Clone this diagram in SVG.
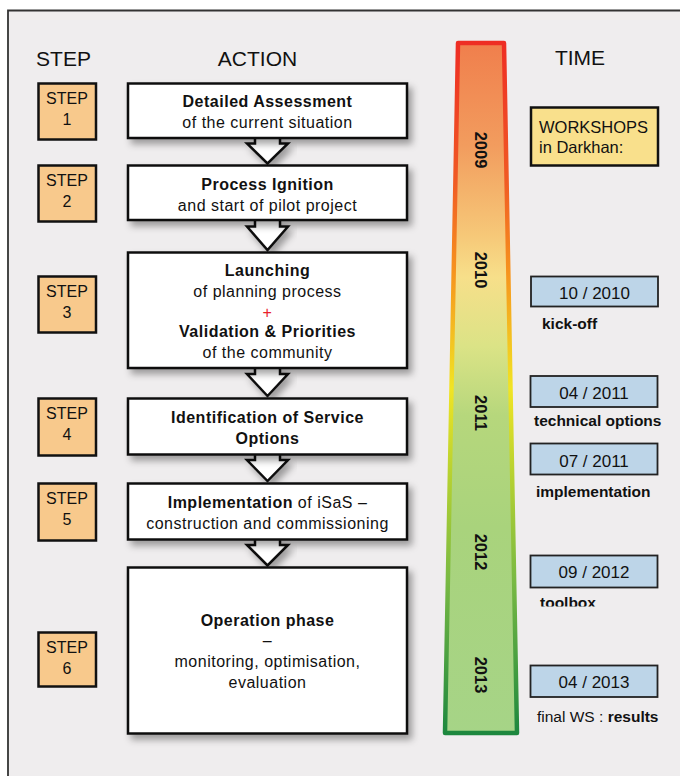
<svg xmlns="http://www.w3.org/2000/svg" width="680" height="776" viewBox="0 0 680 776">
  <defs>
    <style>
      text { font-family: "Liberation Sans", Arial, Helvetica, sans-serif; fill: #111; }
      .hdr { font-size: 21px; text-anchor: middle; }
      .step rect { fill: #f8c98c; stroke: #111; stroke-width: 2.5; }
      .step text { font-size: 16px; text-anchor: middle; }
      .act rect { fill: #fff; stroke: #111; stroke-width: 2.5; }
      .act text { font-size: 16px; letter-spacing: 0.5px; text-anchor: middle; }
      .b { font-weight: bold; }
      .arrow { fill: #fff; stroke: #111; stroke-width: 2.5; stroke-linejoin: miter; }
      .date rect { fill: #bdd5e8; stroke: #222; stroke-width: 1.8; }
      .date text.d { font-size: 17px; text-anchor: middle; }
      .date text.l { font-size: 15.5px; }
      .year { font-size: 16.5px; font-weight: bold; text-anchor: middle; }
    </style>
    <filter id="shadow" x="-10%" y="-10%" width="130%" height="140%">
      <feDropShadow dx="4" dy="5" stdDeviation="3.5" flood-color="#000" flood-opacity="0.35"/>
    </filter>
    <linearGradient id="barFill" gradientUnits="userSpaceOnUse" x1="0" y1="41" x2="0" y2="735">
      <stop offset="0" stop-color="#f07e4c"/>
      <stop offset="0.15" stop-color="#f29c5e"/>
      <stop offset="0.28" stop-color="#f6c878"/>
      <stop offset="0.34" stop-color="#f7df8a"/>
      <stop offset="0.44" stop-color="#dbe386"/>
      <stop offset="0.54" stop-color="#b6d77c"/>
      <stop offset="0.7" stop-color="#a9d37c"/>
      <stop offset="1" stop-color="#a6d487"/>
    </linearGradient>
    <linearGradient id="barStroke" gradientUnits="userSpaceOnUse" x1="0" y1="41" x2="0" y2="735">
      <stop offset="0" stop-color="#ee2d24"/>
      <stop offset="0.2" stop-color="#f05a24"/>
      <stop offset="0.33" stop-color="#f6921e"/>
      <stop offset="0.5" stop-color="#f1e424"/>
      <stop offset="0.62" stop-color="#b8d231"/>
      <stop offset="0.78" stop-color="#78b943"/>
      <stop offset="1" stop-color="#1c873e"/>
    </linearGradient>
    <clipPath id="cutLabel">
      <rect x="530" y="590" width="150" height="16.5"/>
    </clipPath>
  </defs>

  <!-- page and frame -->
  <rect x="0" y="0" width="680" height="776" fill="#fff"/>
  <rect x="8" y="11" width="680" height="780" fill="#efedee"/>
  <path d="M8,776 V10.5 H680" fill="none" stroke="#333" stroke-width="1.8"/>

  <!-- column headers -->
  <text class="hdr" x="63.5" y="66">STEP</text>
  <text class="hdr" x="257.5" y="66">ACTION</text>
  <text class="hdr" x="580" y="65">TIME</text>

  <!-- step markers -->
  <g id="step1" class="step">
    <rect x="38.5" y="83.5" width="57.5" height="56"/>
    <text x="67" y="104">STEP</text><text x="67" y="125">1</text>
  </g>
  <g id="step2" class="step">
    <rect x="38.5" y="165.5" width="57.5" height="56"/>
    <text x="67" y="186">STEP</text><text x="67" y="207">2</text>
  </g>
  <g id="step3" class="step">
    <rect x="38.5" y="276.5" width="57.5" height="56"/>
    <text x="67" y="297">STEP</text><text x="67" y="318">3</text>
  </g>
  <g id="step4" class="step">
    <rect x="38.5" y="398.5" width="57.5" height="57"/>
    <text x="67" y="419">STEP</text><text x="67" y="440">4</text>
  </g>
  <g id="step5" class="step">
    <rect x="38.5" y="483.5" width="57.5" height="57"/>
    <text x="67" y="504">STEP</text><text x="67" y="525">5</text>
  </g>
  <g id="step6" class="step">
    <rect x="38.5" y="632.5" width="57.5" height="54"/>
    <text x="67" y="653">STEP</text><text x="67" y="674">6</text>
  </g>

  <!-- flow arrows between action boxes -->
  <g id="connectors" filter="url(#shadow)">
    <path class="arrow" d="M255,138 V143.5 H247 L267.5,163.5 L288,143.5 H280 V138"/>
    <path class="arrow" d="M255,220 V226.5 H247 L267.5,250 L288,226.5 H280 V220"/>
    <path class="arrow" d="M255,368 V374 H247 L267.5,396 L288,374 H280 V368"/>
    <path class="arrow" d="M255,454.5 V460 H247 L267.5,481 L288,460 H280 V454.5"/>
    <path class="arrow" d="M255,539.5 V545 H247 L267.5,565.5 L288,545 H280 V539.5"/>
  </g>

  <!-- action boxes -->
  <g id="action1" class="act">
    <rect x="128" y="83.5" width="279" height="54.5" filter="url(#shadow)"/>
    <text x="267.5" y="107" class="b">Detailed Assessment</text>
    <text x="267.5" y="128">of the current situation</text>
  </g>
  <g id="action2" class="act">
    <rect x="128" y="165.5" width="279" height="54.5" filter="url(#shadow)"/>
    <text x="267.5" y="190" class="b">Process Ignition</text>
    <text x="267.5" y="211">and start of pilot project</text>
  </g>
  <g id="action3" class="act">
    <rect x="128" y="252.5" width="279" height="115.5" filter="url(#shadow)"/>
    <text x="267.5" y="276" class="b">Launching</text>
    <text x="267.5" y="297">of planning process</text>
    <text x="267.5" y="318" style="fill:#e8202a">+</text>
    <text x="267.5" y="337" class="b">Validation &amp; Priorities</text>
    <text x="267.5" y="358">of the community</text>
  </g>
  <g id="action4" class="act">
    <rect x="128" y="398.5" width="279" height="56" filter="url(#shadow)"/>
    <text x="267.5" y="423" class="b">Identification of Service</text>
    <text x="267.5" y="444" class="b">Options</text>
  </g>
  <g id="action5" class="act">
    <rect x="128" y="483.5" width="279" height="56" filter="url(#shadow)"/>
    <text x="267.5" y="508"><tspan class="b">Implementation</tspan> of iSaS –</text>
    <text x="267.5" y="529">construction and commissioning</text>
  </g>
  <g id="action6" class="act">
    <rect x="128" y="567.5" width="279" height="166" filter="url(#shadow)"/>
    <text x="267.5" y="626" class="b">Operation phase</text>
    <text x="267.5" y="646">–</text>
    <text x="267.5" y="667">monitoring, optimisation,</text>
    <text x="267.5" y="688">evaluation</text>
  </g>

  <!-- time bar -->
  <g id="timebar">
    <path d="M458,43 H504 L517,733 H445 Z" fill="url(#barFill)" stroke="url(#barStroke)" stroke-width="4.5" stroke-linejoin="round"/>
    <text class="year" transform="translate(474.5,150) rotate(90)">2009</text>
    <text class="year" transform="translate(474.5,270) rotate(90)">2010</text>
    <text class="year" transform="translate(474.5,413) rotate(90)">2011</text>
    <text class="year" transform="translate(474.5,552) rotate(90)">2012</text>
    <text class="year" transform="translate(474.5,675) rotate(90)">2013</text>
  </g>

  <!-- workshops -->
  <g id="workshops">
    <rect x="531" y="107.5" width="127" height="58" fill="#f9e08c" stroke="#111" stroke-width="2.5"/>
    <text x="539" y="133" style="font-size:16.5px">WORKSHOPS</text>
    <text x="539" y="153" style="font-size:16.5px">in Darkhan:</text>
  </g>
  <g id="ws2010" class="date">
    <rect x="531" y="276.5" width="127" height="30"/>
    <text class="d" x="594.5" y="299">10 / 2010</text>
    <text class="l b" x="542" y="329">kick-off</text>
  </g>
  <g id="ws2011a" class="date">
    <rect x="530.5" y="376" width="127" height="31"/>
    <text class="d" x="594" y="399">04 / 2011</text>
    <text class="l b" x="534" y="426">technical options</text>
  </g>
  <g id="ws2011b" class="date">
    <rect x="530.5" y="443.5" width="127" height="31"/>
    <text class="d" x="594" y="467">07 / 2011</text>
    <text class="l b" x="536" y="497">implementation</text>
  </g>
  <g id="ws2012" class="date">
    <rect x="530.5" y="555.5" width="127" height="32"/>
    <text class="d" x="594" y="578">09 / 2012</text>
    <text class="l b" x="540" y="608" clip-path="url(#cutLabel)">toolbox</text>
  </g>
  <g id="ws2013" class="date">
    <rect x="530.5" y="665.5" width="127" height="31.5"/>
    <text class="d" x="594" y="688">04 / 2013</text>
    <text class="l" x="537" y="722">final WS : <tspan class="b">results</tspan></text>
  </g>
</svg>
